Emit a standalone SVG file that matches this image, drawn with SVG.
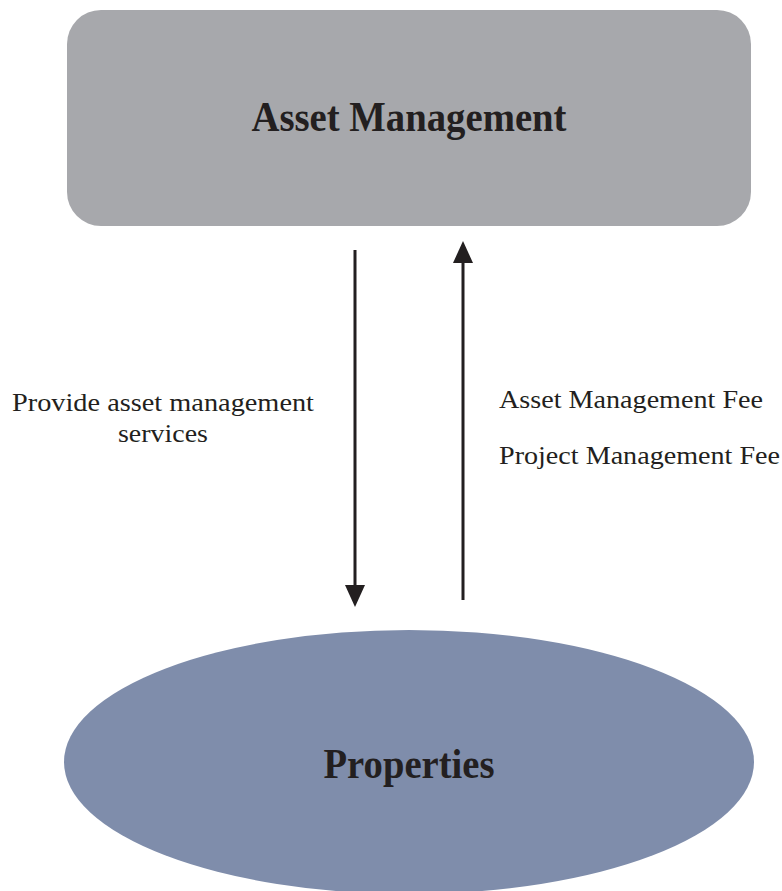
<svg xmlns="http://www.w3.org/2000/svg" width="782" height="891" viewBox="0 0 782 891">
<defs>
<style>
.lbl{font-family:"Liberation Serif","Times New Roman",serif;font-size:26px;fill:#231f20}
.ttl{font-family:"Liberation Serif","Times New Roman",serif;font-size:43px;font-weight:bold;fill:#231f20}
.conn{stroke:#231f20;stroke-width:3;fill:none}
.head{fill:#231f20}
</style>
</defs>
<rect width="782" height="891" fill="#ffffff"/>
<g id="asset-management">
<rect x="67" y="10" width="684" height="216" rx="34" ry="34" fill="#a7a8ac"/>
<text class="ttl" x="409" y="131" text-anchor="middle" textLength="315" lengthAdjust="spacingAndGlyphs">Asset Management</text>
</g>
<g id="properties">
<ellipse cx="409" cy="762" rx="345" ry="132" fill="#7f8dab"/>
<text class="ttl" x="409" y="778" text-anchor="middle" textLength="171" lengthAdjust="spacingAndGlyphs">Properties</text>
</g>
<g id="connectors">
<line class="conn" x1="355" y1="250" x2="355" y2="588"/>
<polygon class="head" points="345,585 365,585 355,607"/>
<line class="conn" x1="463" y1="600" x2="463" y2="260"/>
<polygon class="head" points="453,263 473,263 463,241"/>
</g>
<g id="labels">
<text class="lbl" x="163" y="411" text-anchor="middle" textLength="302" lengthAdjust="spacingAndGlyphs">Provide asset management</text>
<text class="lbl" x="163" y="442" text-anchor="middle" textLength="90" lengthAdjust="spacingAndGlyphs">services</text>
<text class="lbl" x="499" y="408" textLength="264" lengthAdjust="spacingAndGlyphs">Asset Management Fee</text>
<text class="lbl" x="499" y="464" textLength="281" lengthAdjust="spacingAndGlyphs">Project Management Fee</text>
</g>
</svg>
